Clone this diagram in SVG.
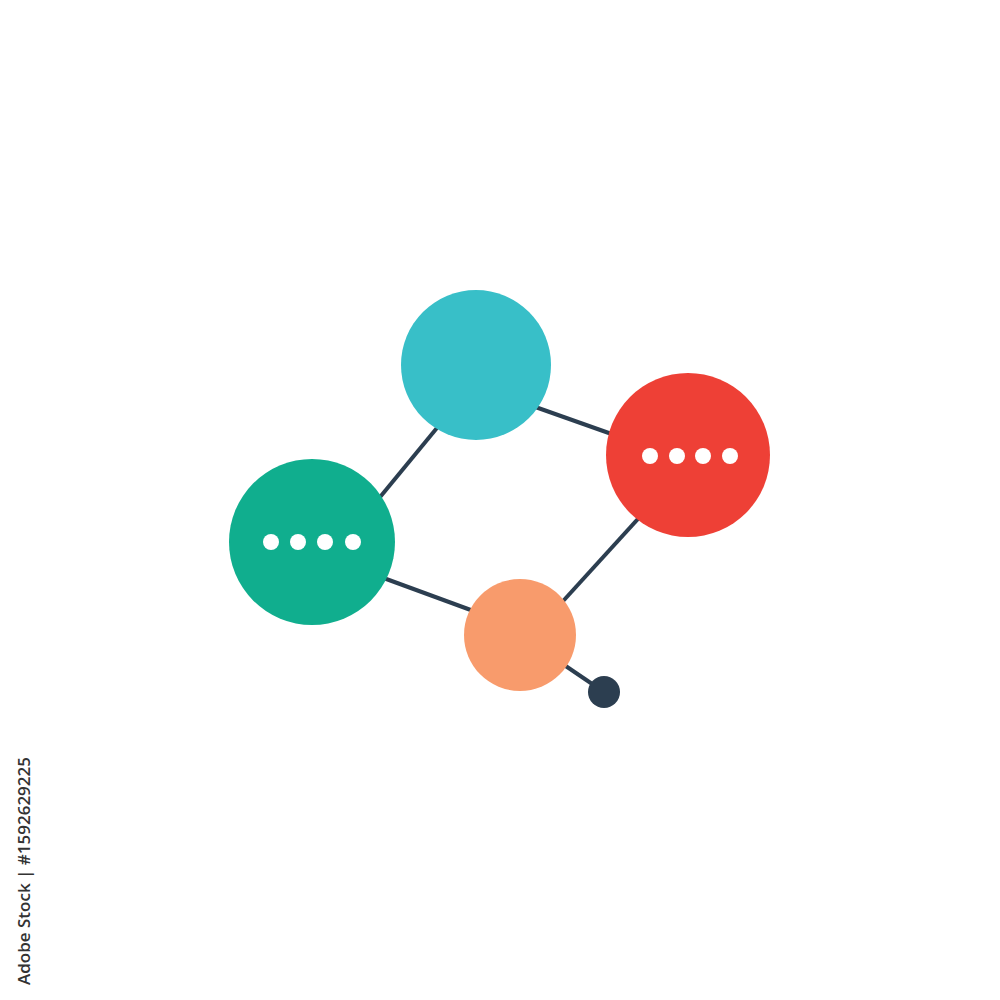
<svg xmlns="http://www.w3.org/2000/svg" width="1000" height="1000" viewBox="0 0 1000 1000">
<style>
.edge{stroke:#2C3E50;stroke-width:4;fill:none}
.dot{fill:#FFFFFF}
.side{font-family:"Open Sans","Liberation Sans",sans-serif;font-size:17px;font-weight:600;fill:#333333}
</style>
<rect width="1000" height="1000" fill="#FFFFFF"/>
<g id="connectors">
<line class="edge" x1="455" y1="406" x2="362" y2="519"/>
<line class="edge" x1="510" y1="398" x2="637" y2="443"/>
<line class="edge" x1="657" y1="498" x2="544" y2="622"/>
<line class="edge" x1="359" y1="569" x2="498" y2="620"/>
<line class="edge" x1="520" y1="635" x2="604" y2="692"/>
</g>
<g id="node-teal"><circle cx="476" cy="365" r="75" fill="#38BFC8"/></g>
<g id="node-red"><circle cx="688" cy="455" r="82" fill="#EE4036"/>
<circle class="dot" cx="650" cy="456" r="8"/><circle class="dot" cx="677" cy="456" r="8"/><circle class="dot" cx="703" cy="456" r="8"/><circle class="dot" cx="730" cy="456" r="8"/></g>
<g id="node-green"><circle cx="312" cy="542" r="83" fill="#10AE8E"/>
<circle class="dot" cx="271" cy="542" r="8"/><circle class="dot" cx="298" cy="542" r="8"/><circle class="dot" cx="325" cy="542" r="8"/><circle class="dot" cx="353" cy="542" r="8"/></g>
<g id="node-orange"><circle cx="520" cy="635" r="56" fill="#F89B6C"/></g>
<g id="node-end"><circle cx="604" cy="692" r="16" fill="#2C3E50"/></g>
<text class="side" transform="translate(30,985) rotate(-90)">Adobe Stock | #1592629225</text>
</svg>
